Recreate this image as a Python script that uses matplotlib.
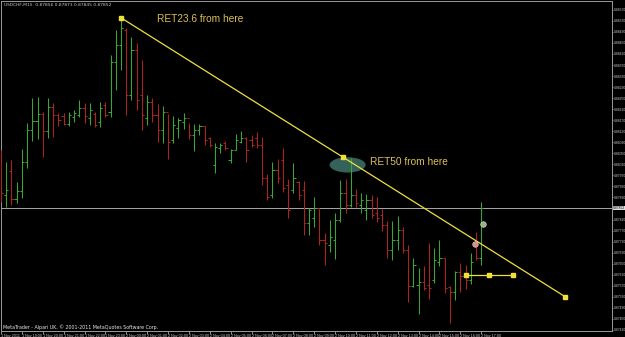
import numpy as np
import matplotlib.pyplot as plt
from matplotlib.patches import Ellipse

symbol = 'USDCHF,M15'

# M15 bars, quotes in points (price * 1e5)
open_pts = [87971, 87899, 87986, 87884, 87913, 88019, 88135, 88167, 88193, 88131,
            88218, 88189, 88185, 88156, 88182, 88189, 88214, 88178, 88193, 88164,
            88225, 88200, 88381, 88443, 88497, 88262, 88425, 88262, 88178, 88236,
            88189, 88135, 88200, 88098, 88142, 88164, 88178, 88116, 88135, 88149,
            88106, 88008, 88069, 88087, 88026, 88062, 88091, 88106, 88098, 88106,
            88080, 87961, 87899, 87990, 88026, 87935, 87917, 87946, 87917, 87797,
            87816, 87852, 87736, 87718, 87736, 87808, 87906, 87863, 87899, 87863,
            87845, 87881, 87834, 87826, 87790, 87700, 87736, 87772, 87700, 87569,
            87573, 87584, 87573, 87591, 87656, 87671, 87565, 87547, 87620, 87605,
            87591, 87718, 87671]
high_pts = [88062, 88019, 88026, 87946, 88066, 88160, 88251, 88254, 88200, 88251,
            88233, 88196, 88196, 88200, 88207, 88243, 88233, 88233, 88200, 88236,
            88236, 88407, 88497, 88541, 88505, 88472, 88450, 88388, 88262, 88251,
            88229, 88222, 88193, 88185, 88178, 88196, 88160, 88156, 88156, 88149,
            88109, 88087, 88087, 88095, 88066, 88120, 88131, 88109, 88116, 88127,
            88109, 87975, 88019, 88029, 88069, 87957, 88015, 87950, 87950, 87852,
            87892, 87848, 87761, 87808, 87834, 87953, 87957, 88033, 87921, 87906,
            87903, 87899, 87892, 87848, 87805, 87805, 87823, 87783, 87718, 87671,
            87634, 87641, 87725, 87707, 87736, 87671, 87569, 87623, 87652, 87645,
            87689, 87765, 87873]
low_pts = [87873, 87855, 87863, 87870, 87888, 87997, 88095, 88102, 88037, 88106,
           88109, 88149, 88153, 88149, 88164, 88182, 88160, 88153, 88145, 88145,
           88182, 88182, 88280, 88352, 88189, 88243, 88207, 88135, 88153, 88164,
           88091, 88087, 88029, 88087, 88106, 88138, 88102, 88058, 88116, 88080,
           88073, 87979, 88051, 88062, 88015, 88062, 88087, 88019, 88073, 88069,
           87935, 87881, 87888, 87942, 87910, 87816, 87906, 87881, 87754, 87754,
           87783, 87718, 87645, 87692, 87667, 87801, 87834, 87855, 87855, 87834,
           87808, 87816, 87801, 87768, 87671, 87663, 87700, 87689, 87511, 87565,
           87467, 87554, 87522, 87580, 87641, 87544, 87435, 87518, 87547, 87558,
           87576, 87663, 87645]
close_pts = [87906, 87917, 87884, 87913, 88019, 88135, 88167, 88193, 88131, 88218,
             88189, 88171, 88156, 88189, 88196, 88214, 88185, 88207, 88153, 88214,
             88189, 88381, 88443, 88505, 88262, 88425, 88243, 88189, 88236, 88189,
             88135, 88200, 88091, 88153, 88171, 88178, 88116, 88135, 88149, 88098,
             88080, 88073, 88080, 88069, 88062, 88098, 88106, 88062, 88080, 88080,
             87961, 87892, 87990, 87961, 87924, 87845, 87961, 87899, 87797, 87845,
             87852, 87736, 87725, 87747, 87808, 87906, 87863, 87899, 87870, 87881,
             87881, 87826, 87816, 87790, 87700, 87736, 87772, 87700, 87569, 87645,
             87584, 87562, 87562, 87663, 87671, 87562, 87547, 87620, 87605, 87591,
             87656, 87671, 87852]

time_labels = ['1 Nov 2011', '1 Nov 19:00', '1 Nov 20:00', '1 Nov 21:00',
               '1 Nov 22:00', '1 Nov 23:00', '2 Nov 00:00', '2 Nov 01:00',
               '2 Nov 02:00', '2 Nov 03:00', '2 Nov 04:00', '2 Nov 05:00',
               '2 Nov 06:00', '2 Nov 07:00', '2 Nov 08:00', '2 Nov 09:00',
               '2 Nov 10:00', '2 Nov 11:00', '2 Nov 12:00', '2 Nov 13:00',
               '2 Nov 14:00', '2 Nov 15:00', '2 Nov 16:00', '2 Nov 17:00']
price_ticks = [0.88570, 0.88530, 0.88490, 0.88450, 0.88410, 0.88370, 0.88330,
               0.88290, 0.88250, 0.88210, 0.88170, 0.88130, 0.88090, 0.88050,
               0.88010, 0.87970, 0.87930, 0.87890, 0.87850, 0.87810, 0.87770,
               0.87730, 0.87690, 0.87650, 0.87610, 0.87570, 0.87530, 0.87490,
               0.87450, 0.87410]

# drawn objects: (bar index, price)
trend_start = (23, 0.88541)
trend_end = (108.1, 0.87530)
level_start = (89, 0.87608)
level_end = (98, 0.87608)
ellipse_center = (66.4, 0.88008)
green_mark = (92.3, 0.87793)
pink_mark = (90.9, 0.87721)

UP = '#38a834'
DOWN = '#b0221f'
YELLOW = '#f0e03a'
LABEL = '#dcbf58'


def draw_bars(ax):
    o = np.array(open_pts) / 1e5
    h = np.array(high_pts) / 1e5
    l = np.array(low_pts) / 1e5
    c = np.array(close_pts) / 1e5
    x = np.arange(len(o))
    colors = [UP if cc >= oo else DOWN for oo, cc in zip(o, c)]
    ax.vlines(x, l, h, colors=colors, lw=0.75, zorder=3)
    ax.hlines(o, x - 0.42, x, colors=colors, lw=0.75, zorder=3)
    ax.hlines(c, x, x + 0.42, colors=colors, lw=0.75, zorder=3)
    return c[-1]


def main():
    fig = plt.figure(figsize=(6.25, 3.37), dpi=100, facecolor='black')
    ax = fig.add_axes([1 / 625, 6 / 337, 611 / 625, 330 / 337])
    ax.set_facecolor('black')
    ax.set_xlim(0, 117.05)
    ax.set_ylim(0.87406, 0.88602)

    ax.add_patch(Ellipse(ellipse_center, width=6.9, height=0.000555,
                         facecolor='#3b6c66', edgecolor='none', alpha=0.9,
                         zorder=1))

    last = draw_bars(ax)
    ax.axhline(last, color='#a8a8a8', lw=0.7, zorder=2)

    # trendline with its selection handles
    tx = [trend_start[0], (trend_start[0] + trend_end[0]) / 2, trend_end[0]]
    ty = [trend_start[1], (trend_start[1] + trend_end[1]) / 2, trend_end[1]]
    ax.plot(tx, ty, color=YELLOW, lw=0.9, zorder=4)
    ax.plot(tx, ty, 's', color=YELLOW, ms=2.2, zorder=5)
    lx = [level_start[0], (level_start[0] + level_end[0]) / 2, level_end[0]]
    ly = [level_start[1], level_start[1], level_end[1]]
    ax.plot(lx, ly, color=YELLOW, lw=0.9, zorder=4)
    ax.plot(lx, ly, 's', color=YELLOW, ms=2.2, zorder=5)

    ax.scatter(*green_mark, s=16, color='#93b585', edgecolors='#c4d6b6',
               linewidths=0.5, zorder=6)
    ax.scatter(*pink_mark, s=16, color='#d39090', edgecolors='#e8b8b8',
               linewidths=0.5, zorder=6)

    ax.text(29.9, 0.88537, 'RET23.6 from here', color=LABEL, fontsize=7.3,
            family='Liberation Sans', va='center', zorder=6)
    ax.text(70.7, 0.88019, 'RET50 from here', color=LABEL, fontsize=7.3,
            family='Liberation Sans', va='center', zorder=6)

    for side in ['left', 'top', 'right', 'bottom']:
        ax.spines[side].set_color('#9a9a9a')
        ax.spines[side].set_linewidth(0.7)

    # the bid label takes the place of the scale label nearest to it
    ax.yaxis.tick_right()
    ax.set_yticks(price_ticks)
    ax.set_yticklabels(['' if abs(p - last) < 0.0002 else f'{p:.5f}'
                        for p in price_ticks], family='Liberation Sans')
    ax.tick_params(axis='y', colors='#c8c8c8', labelsize=2.4, length=1.0,
                   width=0.5, pad=0.4)
    ax.set_xticks(range(0, 93, 4))
    ax.set_xticklabels(time_labels, ha='left', family='Liberation Sans')
    ax.tick_params(axis='x', colors='#c8c8c8', labelsize=2.7, length=2,
                   width=0.5, pad=0.3)

    ax.text(1.002, last, f'{last:.5f}', transform=ax.get_yaxis_transform(),
            fontsize=2.4, color='black', va='center', ha='left',
            family='Liberation Sans',
            bbox=dict(boxstyle='square,pad=0.1', facecolor='#e0e0e0',
                      edgecolor='none'), clip_on=False, zorder=7)

    fig.text(4 / 625, 1 - 5 / 337,
             f'{symbol}  0.87856 0.87873 0.87845 {last:.5f}',
             color='#c8c8c8', fontsize=3.2, va='center')
    fig.text(3 / 625, 9.5 / 337,
             'MetaTrader - Alpari UK, \u00a9 2001-2011 MetaQuotes Software Corp.',
             color='#e8e8e8', fontsize=3.4, va='center')

    fig.savefig('out.png', dpi=100, facecolor='black')


if __name__ == '__main__':
    main()
